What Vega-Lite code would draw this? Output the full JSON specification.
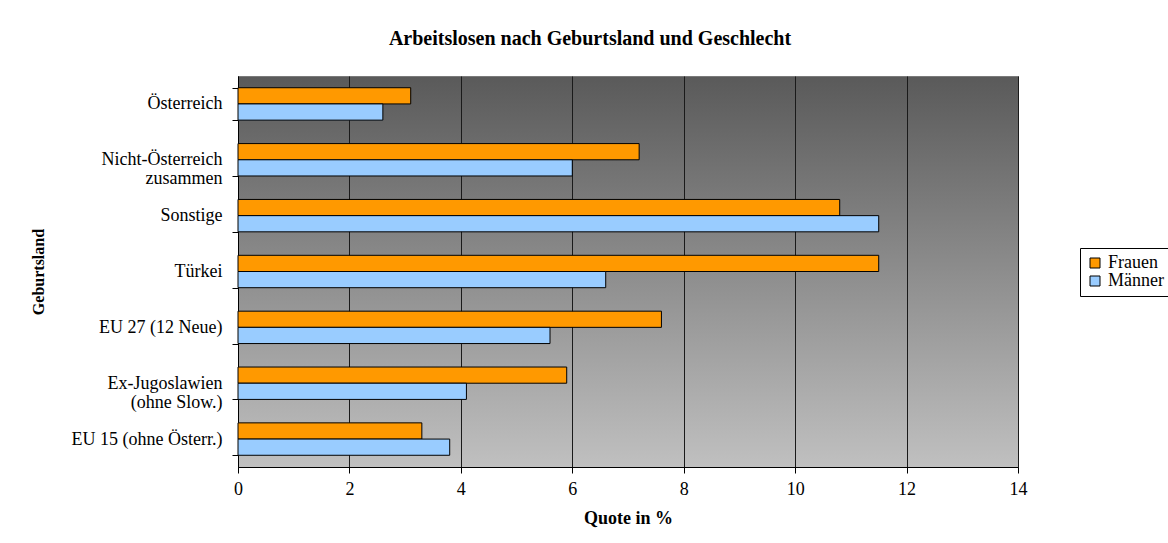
{
  "$schema": "https://vega.github.io/schema/vega-lite/v6.json",
  "autosize": "none",
  "padding": {"left": 238, "top": 76, "right": 150, "bottom": 76},
  "width": 780,
  "height": 391,
  "background": "white",
  "title": {
    "text": "Arbeitslosen nach Geburtsland und Geschlecht",
    "font": "Liberation Serif",
    "fontSize": 20,
    "fontWeight": "bold",
    "color": "black",
    "anchor": "middle",
    "dx": -38,
    "baseline": "alphabetic",
    "offset": 2
  },
  "data": {
    "values": [
      {"land": "Österreich", "geschlecht": "Frauen", "quote": 3.1},
      {"land": "Österreich", "geschlecht": "Männer", "quote": 2.6},
      {"land": "Nicht-Österreich zusammen", "geschlecht": "Frauen", "quote": 7.2},
      {"land": "Nicht-Österreich zusammen", "geschlecht": "Männer", "quote": 6.0},
      {"land": "Sonstige", "geschlecht": "Frauen", "quote": 10.8},
      {"land": "Sonstige", "geschlecht": "Männer", "quote": 11.5},
      {"land": "Türkei", "geschlecht": "Frauen", "quote": 11.5},
      {"land": "Türkei", "geschlecht": "Männer", "quote": 6.6},
      {"land": "EU 27 (12 Neue)", "geschlecht": "Frauen", "quote": 7.6},
      {"land": "EU 27 (12 Neue)", "geschlecht": "Männer", "quote": 5.6},
      {"land": "Ex-Jugoslawien (ohne Slow.)", "geschlecht": "Frauen", "quote": 5.9},
      {"land": "Ex-Jugoslawien (ohne Slow.)", "geschlecht": "Männer", "quote": 4.1},
      {"land": "EU 15 (ohne Österr.)", "geschlecht": "Frauen", "quote": 3.3},
      {"land": "EU 15 (ohne Österr.)", "geschlecht": "Männer", "quote": 3.8}
    ]
  },
  "mark": {"type": "bar", "stroke": "black", "strokeWidth": 1},
  "encoding": {
    "y": {
      "field": "land",
      "type": "nominal",
      "sort": ["Österreich", "Nicht-Österreich zusammen", "Sonstige", "Türkei", "EU 27 (12 Neue)", "Ex-Jugoslawien (ohne Slow.)", "EU 15 (ohne Österr.)"],
      "scale": {"paddingInner": 0.42, "paddingOuter": 0.21},
      "axis": {
        "title": "Geburtsland",
        "titleFont": "Liberation Serif",
        "titleFontSize": 16,
        "titleFontWeight": "bold",
        "titleColor": "black",
        "titlePadding": 25,
        "labelFont": "Liberation Serif",
        "labelFontSize": 18,
        "labelColor": "black",
        "labelPadding": 10,
        "labelLineHeight": 19,
        "labelExpr": "datum.label == 'Nicht-Österreich zusammen' ? ['Nicht-Österreich', 'zusammen'] : datum.label == 'Ex-Jugoslawien (ohne Slow.)' ? ['Ex-Jugoslawien', '(ohne Slow.)'] : datum.label",
        "tickBand": "extent",
        "tickSize": 6,
        "tickColor": "black",
        "domainColor": "black",
        "grid": false
      }
    },
    "yOffset": {"field": "geschlecht", "type": "nominal", "sort": ["Frauen", "Männer"]},
    "x": {
      "field": "quote",
      "type": "quantitative",
      "scale": {"domain": [0, 14], "nice": false},
      "axis": {
        "title": "Quote in %",
        "titleFont": "Liberation Serif",
        "titleFontSize": 18,
        "titleFontWeight": "bold",
        "titleColor": "black",
        "titlePadding": 11,
        "values": [0, 2, 4, 6, 8, 10, 12, 14],
        "labelFont": "Liberation Serif",
        "labelFontSize": 18,
        "labelColor": "black",
        "labelPadding": 7,
        "tickSize": 6,
        "tickColor": "black",
        "domainColor": "black",
        "grid": true,
        "gridColor": "#1a1a1a",
        "gridOpacity": 1,
        "labelFlush": false
      }
    },
    "color": {
      "field": "geschlecht",
      "type": "nominal",
      "scale": {"domain": ["Frauen", "Männer"], "range": ["#FF9900", "#99CCFF"]},
      "legend": {
        "title": null,
        "orient": "none",
        "legendX": 842,
        "legendY": 172,
        "strokeColor": "black",
        "fillColor": "white",
        "padding": 6,
        "rowPadding": 0,
        "symbolType": "square",
        "symbolSize": 100,
        "symbolStrokeColor": "black",
        "symbolStrokeWidth": 1,
        "symbolOpacity": 1,
        "labelFont": "Liberation Serif",
        "labelFontSize": 18,
        "labelColor": "black",
        "labelOffset": 4
      }
    }
  },
  "config": {
    "view": {
      "stroke": "#7a7a7a",
      "fill": {
        "gradient": "linear",
        "x1": 0, "y1": 0, "x2": 0, "y2": 1,
        "stops": [
          {"offset": 0, "color": "#5a5a5a"},
          {"offset": 1, "color": "#c0c0c0"}
        ]
      }
    }
  }
}
